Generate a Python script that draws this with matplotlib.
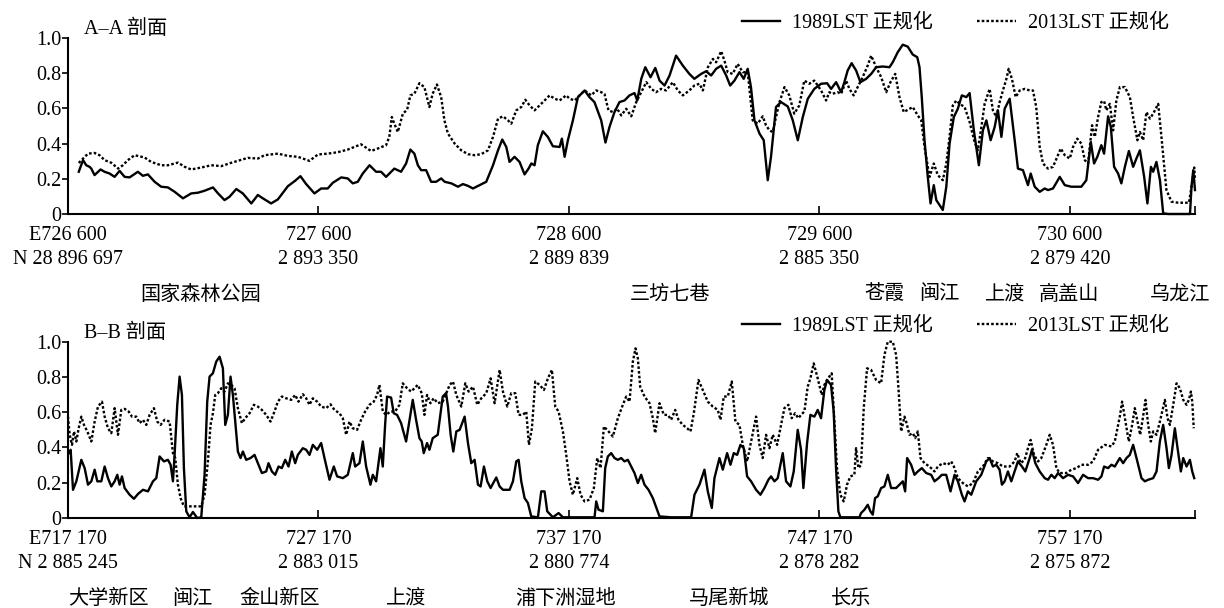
import matplotlib
matplotlib.use('Agg')
import matplotlib.pyplot as plt
from matplotlib.transforms import blended_transform_factory

plt.rcParams['font.family'] = ['Liberation Serif', 'Noto Sans CJK SC']
plt.rcParams['font.size'] = 14.5

# ---- A-A profile (easting, normalised LST) ----
a_x_1989 = [726643, 726660, 726673, 726686, 726693, 726706, 726730, 726746, 726766, 726786,
            726806, 726826, 726846, 726879, 726899, 726919, 726946, 726972, 726999, 727026,
            727059, 727092, 727119, 727145, 727179, 727199, 727225, 727245, 727272, 727298,
            727332, 727358, 727378, 727411, 727438, 727478, 727507, 727528, 727551, 727584,
            727611, 727637, 727657, 727691, 727717, 727737, 727757, 727777, 727804, 727830,
            727850, 727870, 727903, 727930, 727950, 727967, 727983, 727997, 728010, 728030,
            728050, 728070, 728090, 728104, 728131, 728157, 728177, 728197, 728217, 728244,
            728270, 728297, 728317, 728334, 728350, 728363, 728383, 728403, 728423, 728439,
            728450, 728463, 728476, 728496, 728516, 728536, 728563, 728572, 728583, 728596,
            728616, 728636, 728663, 728682, 728702, 728729, 728746, 728762, 728782, 728802,
            728822, 728842, 728862, 728873, 728889, 728905, 728926, 728945, 728962, 728982,
            729002, 729028, 729055, 729081, 729101, 729128, 729148, 729168, 729188, 729208,
            729228, 729244, 729261, 729281, 729298, 729314, 729327, 729341, 729361, 729378,
            729394, 729407, 729427, 729447, 729474, 729494, 729514, 729534, 729554, 729580,
            729607, 729631, 729647, 729667, 729687, 729700, 729713, 729729, 729747, 729764,
            729787, 729807, 729827, 729853, 729880, 729893, 729913, 729933, 729953, 729973,
            729991, 730000, 730009, 730020, 730033, 730044, 730057, 730067, 730093, 730107,
            730120, 730137, 730153, 730169, 730187, 730200, 730217, 730237, 730253, 730267,
            730284, 730300, 730313, 730327, 730340, 730360, 730380, 730393, 730413, 730433,
            730444, 730460, 730480, 730500, 730513, 730533, 730560, 730580, 730606, 730646,
            730666, 730684, 730697, 730710, 730726, 730737, 730753, 730764, 730777, 730793,
            730806, 730820, 730836, 730853, 730866, 730880, 730897, 730910, 730924, 730933,
            730946, 730960, 730973, 730993, 731080, 731086, 731093, 731100]
a_v_1989 = [0.240, 0.306, 0.277, 0.268, 0.258, 0.221, 0.253, 0.240, 0.230, 0.211,
            0.245, 0.211, 0.208, 0.240, 0.217, 0.225, 0.183, 0.155, 0.151, 0.126,
            0.089, 0.117, 0.121, 0.132, 0.151, 0.117, 0.079, 0.098, 0.142, 0.117,
            0.060, 0.108, 0.089, 0.060, 0.083, 0.158, 0.189, 0.215, 0.170, 0.117,
            0.145, 0.145, 0.177, 0.208, 0.202, 0.174, 0.183, 0.230, 0.277, 0.240,
            0.240, 0.211, 0.258, 0.240, 0.287, 0.366, 0.343, 0.277, 0.249, 0.249,
            0.183, 0.183, 0.202, 0.183, 0.174, 0.155, 0.170, 0.160, 0.145, 0.164,
            0.183, 0.277, 0.362, 0.423, 0.381, 0.296, 0.325, 0.296, 0.225, 0.258,
            0.287, 0.277, 0.391, 0.470, 0.438, 0.385, 0.381, 0.428, 0.325, 0.419,
            0.532, 0.664, 0.702, 0.664, 0.636, 0.532, 0.406, 0.494, 0.579, 0.636,
            0.645, 0.674, 0.687, 0.645, 0.768, 0.834, 0.777, 0.830, 0.758, 0.730,
            0.787, 0.900, 0.843, 0.796, 0.768, 0.796, 0.811, 0.787, 0.825, 0.843,
            0.787, 0.730, 0.758, 0.806, 0.768, 0.825, 0.721, 0.532, 0.457, 0.419,
            0.192, 0.325, 0.608, 0.636, 0.611, 0.532, 0.419, 0.551, 0.655, 0.711,
            0.740, 0.743, 0.711, 0.749, 0.692, 0.749, 0.815, 0.857, 0.815, 0.749,
            0.768, 0.796, 0.834, 0.838, 0.834, 0.862, 0.919, 0.962, 0.951, 0.906,
            0.891, 0.834, 0.664, 0.419, 0.211, 0.060, 0.164, 0.079, 0.023, 0.155,
            0.400, 0.551, 0.598, 0.674, 0.664, 0.687, 0.475, 0.277, 0.475, 0.532,
            0.419, 0.494, 0.589, 0.438, 0.598, 0.655, 0.419, 0.258, 0.249, 0.164,
            0.230, 0.155, 0.126, 0.145, 0.136, 0.145, 0.211, 0.164, 0.155, 0.155,
            0.192, 0.409, 0.287, 0.325, 0.391, 0.343, 0.555, 0.494, 0.268, 0.230,
            0.174, 0.268, 0.358, 0.268, 0.315, 0.362, 0.211, 0.060, 0.268, 0.240,
            0.296, 0.192, 0.004, 0.0, 0.0, 0.155, 0.249, 0.136]

a_x_2013 = [726643, 726660, 726680, 726706, 726726, 726746, 726773, 726800, 726819, 726839,
            726866, 726906, 726932, 726972, 726999, 727039, 727066, 727092, 727132, 727172,
            727212, 727252, 727278, 727318, 727358, 727385, 727438, 727478, 727518, 727564,
            727598, 727637, 727677, 727717, 727744, 727770, 727810, 727837, 727870, 727883,
            727893, 727903, 727917, 727937, 727954, 727967, 727983, 728003, 728023, 728043,
            728056, 728073, 728090, 728103, 728117, 728144, 728170, 728197, 728224, 728250,
            728277, 728297, 728317, 728337, 728357, 728370, 728390, 728410, 728426, 728443,
            728463, 728483, 728503, 728523, 728543, 728563, 728589, 728603, 728623, 728643,
            728663, 728689, 728709, 728729, 728742, 728758, 728776, 728793, 728809, 728829,
            728849, 728869, 728889, 728909, 728929, 728948, 728968, 728988, 729015, 729035,
            729055, 729081, 729101, 729121, 729135, 729155, 729175, 729188, 729208, 729221,
            729234, 729254, 729274, 729294, 729314, 729334, 729354, 729374, 729387, 729401,
            729414, 729427, 729441, 729461, 729480, 729500, 729520, 729540, 729560, 729580,
            729607, 729627, 729640, 729653, 729673, 729687, 729707, 729720, 729737, 729753,
            729773, 729793, 729807, 729827, 729847, 729867, 729884, 729903, 729920, 729937,
            729953, 729973, 729993, 730007, 730020, 730040, 730057, 730073, 730093, 730107,
            730120, 730133, 730147, 730160, 730180, 730200, 730220, 730233, 730247, 730260,
            730280, 730293, 730307, 730320, 730333, 730347, 730356, 730369, 730384, 730400,
            730420, 730440, 730453, 730466, 730480, 730493, 730513, 730533, 730550, 730564,
            730580, 730600, 730613, 730630, 730646, 730660, 730673, 730689, 730700, 730713,
            730726, 730737, 730746, 730760, 730773, 730786, 730800, 730820, 730840, 730853,
            730870, 730880, 730893, 730906, 730920, 730933, 730953, 730966, 730986, 731006,
            731033, 731076, 731086, 731097, 731100]
a_v_2013 = [0.290, 0.315, 0.343, 0.347, 0.334, 0.306, 0.291, 0.258, 0.277, 0.306,
            0.334, 0.321, 0.296, 0.277, 0.277, 0.292, 0.268, 0.253, 0.264, 0.277,
            0.272, 0.291, 0.302, 0.319, 0.315, 0.334, 0.343, 0.330, 0.325, 0.302,
            0.338, 0.343, 0.351, 0.366, 0.381, 0.396, 0.358, 0.372, 0.391, 0.438,
            0.551, 0.513, 0.466, 0.570, 0.592, 0.674, 0.683, 0.743, 0.721, 0.608,
            0.683, 0.736, 0.664, 0.532, 0.457, 0.400, 0.362, 0.340, 0.334, 0.340,
            0.362, 0.438, 0.542, 0.555, 0.532, 0.513, 0.589, 0.608, 0.649, 0.617,
            0.589, 0.617, 0.645, 0.674, 0.655, 0.645, 0.674, 0.655, 0.645, 0.674,
            0.702, 0.674, 0.702, 0.692, 0.683, 0.589, 0.579, 0.598, 0.560, 0.598,
            0.555, 0.636, 0.692, 0.749, 0.711, 0.692, 0.711, 0.702, 0.749, 0.702,
            0.674, 0.702, 0.730, 0.740, 0.702, 0.834, 0.881, 0.862, 0.925, 0.872,
            0.806, 0.796, 0.853, 0.806, 0.806, 0.532, 0.513, 0.555, 0.504, 0.475,
            0.466, 0.551, 0.636, 0.721, 0.674, 0.570, 0.617, 0.758, 0.740, 0.758,
            0.702, 0.645, 0.692, 0.683, 0.692, 0.683, 0.758, 0.711, 0.674, 0.721,
            0.777, 0.843, 0.900, 0.834, 0.777, 0.692, 0.749, 0.796, 0.664, 0.579,
            0.592, 0.608, 0.560, 0.532, 0.381, 0.211, 0.287, 0.221, 0.192, 0.287,
            0.438, 0.617, 0.645, 0.626, 0.608, 0.523, 0.409, 0.362, 0.494, 0.626,
            0.711, 0.589, 0.551, 0.636, 0.702, 0.768, 0.825, 0.768, 0.664, 0.702,
            0.711, 0.702, 0.702, 0.608, 0.381, 0.287, 0.258, 0.268, 0.325, 0.372,
            0.334, 0.315, 0.381, 0.428, 0.400, 0.306, 0.287, 0.504, 0.438, 0.551,
            0.636, 0.642, 0.589, 0.626, 0.475, 0.645, 0.721, 0.721, 0.664, 0.551,
            0.419, 0.466, 0.419, 0.579, 0.542, 0.570, 0.626, 0.438, 0.136, 0.070,
            0.064, 0.064, 0.155, 0.264, 0.192]

# ---- B-B profile ----
b_x_1989 = [717197, 717276, 717370, 717503, 717596, 717702, 717835, 717968, 718101, 718234,
            718340, 718500, 718633, 718766, 718899, 719032, 719138, 719232, 719325, 719431,
            719631, 719803, 719963, 720163, 720362, 720562, 720695, 720828, 721000, 721160,
            721266, 721360, 721426, 721532, 721626, 721719, 721798, 721892, 722025, 722158,
            722330, 722490, 722623, 722729, 722823, 722956, 723089, 723222, 723355, 723448,
            723554, 723660, 723754, 723847, 723953, 724059, 724153, 724286, 724458, 724618,
            724751, 724911, 725084, 725177, 725310, 725443, 725576, 725709, 725842, 725975,
            726108, 726241, 726347, 726547, 726680, 726813, 726946, 727118, 727278, 727411,
            727611, 727783, 727916, 728143, 728342, 728542, 728635, 728808, 728941, 729074,
            729246, 729340, 729473, 729645, 729739, 729832, 729911, 730071, 730177, 730310,
            730470, 730670, 730842, 730936, 731069, 731202, 731295, 731374, 731507, 731601,
            731734, 731933, 732133, 732266,
            732342, 732448, 732555, 732675, 732808, 733007, 733140, 733273, 733406, 733539,
            733645, 733778, 733911, 734044, 734271, 734404, 734537, 734803, 734936, 735069,
            735162, 735268, 735401, 735534, 735667, 735933, 736066, 736199, 736305, 736532,
            736758, 736931, 737170, 738194, 738261, 738354, 738527, 738620, 738726, 738859,
            738992, 739125, 739258, 739391, 739524, 739657, 739790, 739923, 740056, 740189,
            740349, 740522, 740788, 741253, 742051, 742184, 742384, 742583, 742716, 742876,
            742982, 743182, 743315, 743488, 743621, 743754, 743887, 744020, 744153, 744286,
            744445, 744645, 744818, 744977, 745137, 745243, 745376, 745509, 745709, 745842,
            746015, 746148, 746307, 746440, 746533, 746680, 746813, 746972, 747105, 747238,
            747371, 747478,
            747637, 747743, 747837, 747930, 748010, 748770, 748836, 748970, 749103, 749209,
            749303, 749396, 749503, 749636, 749769, 749903, 750036, 750236, 750369, 750503,
            750596, 750676, 750836, 750969, 751102, 751262, 751436, 751636, 751769, 751929,
            752062, 752235, 752409, 752569, 752702, 752862, 752969, 753102, 753235, 753435,
            753635, 753835, 753968, 754102, 754235, 754368, 754461, 754568, 754701, 754835,
            754968, 755101, 755261, 755395, 755568, 755661, 755794, 755968, 756168, 756301,
            756434, 756568, 756701, 756901, 757101, 757301, 757501, 757701, 757901, 758101,
            758301, 758434, 758540, 758700, 758834, 758967, 759167, 759300, 759434, 759567,
            759700, 759834, 760033, 760167, 760300, 760500, 760633, 760767, 760900, 761033,
            761127, 761233, 761366, 761473, 761606, 761700, 761833, 761966, 762060, 762140]
b_v_1989 = [0.368, 0.387, 0.160, 0.208, 0.264, 0.330, 0.283, 0.189, 0.208, 0.274,
            0.208, 0.208, 0.292, 0.226, 0.179, 0.208, 0.245, 0.189, 0.236, 0.170,
            0.132, 0.109, 0.136, 0.160, 0.151, 0.208, 0.226, 0.349, 0.321, 0.330,
            0.302, 0.208, 0.358, 0.642, 0.802, 0.698, 0.283, 0.038, 0.004, 0.034,
            0.0, 0.004, 0.245, 0.660, 0.802, 0.821, 0.887, 0.915, 0.849, 0.528,
            0.585, 0.802, 0.698, 0.547, 0.377, 0.340, 0.377, 0.330, 0.340, 0.358,
            0.311, 0.255, 0.264, 0.311, 0.264, 0.245, 0.292, 0.283, 0.330, 0.292,
            0.377, 0.311, 0.358, 0.396, 0.387, 0.358, 0.415, 0.387, 0.425, 0.340,
            0.217, 0.292, 0.236, 0.226, 0.245, 0.368, 0.292, 0.311, 0.434, 0.292,
            0.189, 0.245, 0.208, 0.396, 0.292, 0.528, 0.689, 0.683, 0.594, 0.585,
            0.538, 0.434, 0.585, 0.670, 0.557, 0.453, 0.434, 0.368, 0.425, 0.387,
            0.453, 0.472, 0.689, 0.708,
            0.632, 0.472, 0.377, 0.491, 0.500, 0.575, 0.425, 0.311, 0.330, 0.189,
            0.179, 0.292, 0.208, 0.170, 0.230, 0.179, 0.160, 0.160, 0.208, 0.321,
            0.330, 0.208, 0.113, 0.085, 0.009, 0.004, 0.151, 0.151, 0.038, 0.004,
            0.028, 0.004, 0.004, 0.004, 0.094, 0.047, 0.038, 0.283, 0.349, 0.368,
            0.340, 0.330, 0.340, 0.321, 0.330, 0.292, 0.255, 0.198, 0.245, 0.189,
            0.160, 0.113, 0.009, 0.004, 0.004, 0.132, 0.189, 0.274, 0.151, 0.057,
            0.226, 0.340, 0.274, 0.368, 0.302, 0.368, 0.358, 0.415, 0.396, 0.236,
            0.208, 0.160, 0.132, 0.170, 0.217, 0.236, 0.208, 0.226, 0.368, 0.208,
            0.179, 0.264, 0.500, 0.387, 0.170, 0.425, 0.585, 0.575, 0.613, 0.566,
            0.726, 0.783,
            0.755, 0.604, 0.283, 0.038, 0.004, 0.004, 0.028, 0.047, 0.075, 0.038,
            0.019, 0.113, 0.123, 0.170, 0.179, 0.245, 0.170, 0.170, 0.189, 0.208,
            0.151, 0.340, 0.302, 0.245, 0.264, 0.283, 0.255, 0.245, 0.208, 0.226,
            0.245, 0.245, 0.151, 0.245, 0.208, 0.132, 0.094, 0.151, 0.132, 0.208,
            0.245, 0.321, 0.340, 0.292, 0.302, 0.274, 0.189, 0.208, 0.264, 0.208,
            0.264, 0.321, 0.292, 0.264, 0.340, 0.387, 0.311, 0.264, 0.226, 0.217,
            0.245, 0.226, 0.255, 0.226, 0.245, 0.236, 0.198, 0.245, 0.226, 0.226,
            0.217, 0.236, 0.292, 0.283, 0.302, 0.292, 0.340, 0.311, 0.340, 0.358,
            0.415, 0.340, 0.226, 0.208, 0.217, 0.226, 0.264, 0.434, 0.528, 0.396,
            0.283, 0.358, 0.509, 0.396, 0.264, 0.340, 0.292, 0.330, 0.264, 0.226]

b_x_2013 = [717170, 717237, 717330, 717409, 717503, 717596, 717702, 717808, 717941, 718101,
            718234, 718367, 718527, 718633, 718766, 718899, 719032, 719165, 719298, 719431,
            719591, 719724, 719897, 720030, 720163, 720296, 720429, 720601, 720734, 720867,
            721027, 721227, 721360, 721453, 721559, 721665, 721798, 722091, 722490, 722623,
            722756, 722862, 722956, 723049, 723155, 723288, 723421, 723554, 723687, 723820,
            723953, 724113, 724246, 724419, 724591, 724751, 724911, 725084, 725256, 725416,
            725549, 725709, 725882, 726081, 726241, 726374, 726547, 726680, 726813, 726946,
            727118, 727278, 727478, 727650, 727810, 728010, 728143, 728276, 728409, 728542,
            728714, 728874, 729034, 729207, 729379, 729512, 729606, 729739, 729872, 730044,
            730231, 730404, 730537, 730709, 730869, 731002, 731135, 731295, 731401, 731507,
            731640, 731773, 731933, 732133, 732275,
            732409, 732542, 732675, 732874, 733034, 733167, 733340, 733512, 733672, 733872,
            734044, 734204, 734404, 734537, 734709, 734869, 735029, 735162, 735335, 735468,
            735574, 735694, 735827, 736000, 736172, 736332, 736492, 736625, 736758, 736931,
            737064, 737197, 737330, 737503, 737636, 737795, 737995, 738168, 738301, 738434,
            738567, 738753, 738926, 739125, 739325, 739458, 739591, 739724, 739830, 739923,
            740016, 740189, 740389, 740522, 740615, 740788, 740961, 741120, 741253, 741413,
            741546, 741719, 741892, 742025, 742158, 742344, 742517, 742716, 742916, 743115,
            743222, 743355, 743514, 743674, 743820, 743980, 744113, 744286, 744445, 744645,
            744778, 744911, 745044, 745177, 745310, 745483, 745642, 745775, 745935, 746068,
            746201, 746334, 746440, 746573, 746706, 746813, 746946, 747105, 747265, 747371,
            747478,
            747663, 747770, 747876, 748010, 748143, 748276, 748410, 748570, 748636, 748730,
            748836, 748943, 749076, 749236, 749436, 749636, 749769, 749903, 750103, 750236,
            750329, 750436, 750569, 750636, 750769, 750902, 750996, 751102, 751209, 751369,
            751569, 751769, 751902, 752102, 752302, 752435, 752542, 752702, 752902, 753102,
            753302, 753502, 753702, 753902, 754102, 754302, 754502, 754768, 754968, 755075,
            755208, 755368, 755501, 755608, 755741, 755901, 756034, 756234, 756368, 756501,
            756634, 756768, 757034, 757234, 757434, 757634, 757901, 758101, 758301, 758567,
            758834, 758967, 759167, 759260, 759394, 759527, 759660, 759767, 759873, 759980,
            760087, 760193, 760300, 760407, 760500, 760633, 760767, 760860, 760967, 761073,
            761167, 761300, 761433, 761566, 761700, 761833, 761926, 762006, 762060, 762120]
b_v_2013 = [0.575, 0.472, 0.415, 0.491, 0.434, 0.509, 0.575, 0.528, 0.491, 0.434,
            0.547, 0.632, 0.660, 0.575, 0.509, 0.481, 0.623, 0.472, 0.613, 0.619,
            0.604, 0.575, 0.575, 0.538, 0.557, 0.528, 0.585, 0.623, 0.547, 0.528,
            0.557, 0.547, 0.368, 0.340, 0.189, 0.113, 0.066, 0.066, 0.066, 0.132,
            0.321, 0.528, 0.594, 0.698, 0.708, 0.736, 0.717, 0.764, 0.755, 0.736,
            0.623, 0.538, 0.566, 0.594, 0.642, 0.632, 0.613, 0.585, 0.547, 0.604,
            0.660, 0.689, 0.679, 0.670, 0.698, 0.660, 0.702, 0.679, 0.642, 0.679,
            0.660, 0.632, 0.623, 0.645, 0.613, 0.594, 0.566, 0.472, 0.547, 0.509,
            0.500, 0.557, 0.604, 0.642, 0.660, 0.698, 0.755, 0.604, 0.585, 0.604,
            0.604, 0.642, 0.764, 0.736, 0.717, 0.736, 0.755, 0.708, 0.585, 0.698,
            0.651, 0.679, 0.651, 0.660, 0.708,
            0.755, 0.774, 0.698, 0.632, 0.764, 0.717, 0.745, 0.642, 0.679, 0.708,
            0.792, 0.651, 0.840, 0.717, 0.632, 0.708, 0.708, 0.585, 0.585, 0.604,
            0.415, 0.509, 0.774, 0.755, 0.726, 0.792, 0.840, 0.632, 0.604, 0.491,
            0.358, 0.208, 0.132, 0.226, 0.132, 0.094, 0.104, 0.170, 0.340, 0.283,
            0.519, 0.491, 0.462, 0.566, 0.642, 0.689, 0.660, 0.887, 0.962, 0.906,
            0.745, 0.689, 0.651, 0.566, 0.481, 0.651, 0.585, 0.585, 0.557, 0.613,
            0.557, 0.528, 0.509, 0.491, 0.594, 0.783, 0.726, 0.660, 0.632, 0.613,
            0.557, 0.689, 0.689, 0.774, 0.547, 0.528, 0.415, 0.321, 0.434, 0.575,
            0.415, 0.340, 0.472, 0.396, 0.472, 0.415, 0.528, 0.623, 0.642, 0.566,
            0.594, 0.566, 0.585, 0.604, 0.745, 0.792, 0.877, 0.792, 0.698, 0.755,
            0.783,
            0.821, 0.547, 0.283, 0.132, 0.094, 0.189, 0.236, 0.245, 0.396, 0.283,
            0.302, 0.623, 0.849, 0.840, 0.783, 0.764, 0.925, 1.000, 1.000, 0.925,
            0.736, 0.491, 0.575, 0.547, 0.472, 0.481, 0.453, 0.491, 0.340, 0.311,
            0.292, 0.264, 0.292, 0.311, 0.302, 0.321, 0.292, 0.226, 0.198, 0.179,
            0.198, 0.264, 0.292, 0.340, 0.321, 0.311, 0.292, 0.292, 0.321, 0.368,
            0.311, 0.330, 0.396, 0.443, 0.358, 0.321, 0.340, 0.415, 0.472, 0.415,
            0.283, 0.255, 0.255, 0.274, 0.283, 0.302, 0.302, 0.321, 0.387, 0.415,
            0.406, 0.434, 0.575, 0.660, 0.547, 0.434, 0.528, 0.623, 0.547, 0.472,
            0.566, 0.670, 0.528, 0.434, 0.491, 0.472, 0.547, 0.604, 0.670, 0.566,
            0.528, 0.642, 0.764, 0.736, 0.670, 0.642, 0.670, 0.717, 0.660, 0.509]

# ---- axis labels ----
y_ticks = [0, 0.2, 0.4, 0.6, 0.8, 1.0]
y_tick_labels = ['0', '0.2', '0.4', '0.6', '0.8', '1.0']

a_ticks = [726600, 727600, 728600, 729600, 730600]
a_tick_labels = ['E726 600\nN 28 896 697', '727 600\n2 893 350', '728 600\n2 889 839',
                 '729 600\n2 885 350', '730 600\n2 879 420']
b_ticks = [717170, 727170, 737170, 747170, 757170]
b_tick_labels = ['E717 170\nN 2 885 245', '727 170\n2 883 015', '737 170\n2 880 774',
                 '747 170\n2 878 282', '757 170\n2 875 872']

a_places = ['国家森林公园', '三坊七巷', '苍霞', '闽江', '上渡', '高盖山', '乌龙江']
a_place_x = [727130, 729005, 729862, 730078, 730342, 730595, 731040]
b_places = ['大学新区', '闽江', '金山新区', '上渡', '浦下洲湿地', '马尾新城', '长乐']
b_place_x = [718800, 722120, 725640, 730690, 737050, 743560, 748430]


def draw_panel(ax, x89, v89, x13, v13, xlim, ticks, labels, title, places, place_x):
    ax.plot(x89, v89, color='black', lw=1.7, label='1989LST 正规化', clip_on=False)
    ax.plot(x13, v13, color='black', lw=1.7, linestyle=(0, (1.1, 0.9)),
            label='2013LST 正规化', clip_on=False)
    ax.set_xlim(xlim)
    ax.set_ylim(0, 1.0)
    for s in ['top', 'right']:
        ax.spines[s].set_visible(False)
    for s in ['left', 'bottom']:
        ax.spines[s].set_linewidth(1.5)
    ax.set_yticks(y_ticks)
    ax.set_yticklabels(y_tick_labels)
    ax.set_xticks(ticks + [xlim[1]])
    ax.set_xticklabels(labels + [''], linespacing=1.3)
    ax.tick_params(axis='y', direction='out', length=4, width=1.2, pad=1)
    ax.tick_params(axis='x', direction='in', length=6, width=1.2, pad=9)
    ax.text(0.014, 1.05, title, transform=ax.transAxes, ha='left', va='center')
    ax.legend(loc='center left', bbox_to_anchor=(0.598, 1.085), ncol=2, frameon=False,
              handlelength=1.9, handletextpad=0.6, columnspacing=2.2,
              borderpad=0, borderaxespad=0)
    trans = blended_transform_factory(ax.transData, ax.transAxes)
    for name, x in zip(places, place_x):
        ax.text(x, -0.46, name, transform=trans, ha='center', va='center')


fig = plt.figure(figsize=(12.24, 6.08), dpi=100)
ax1 = fig.add_axes([68 / 1224, 1 - 214 / 608, 1127 / 1224, 176 / 608])
ax2 = fig.add_axes([68 / 1224, 1 - 518 / 608, 1127 / 1224, 176.3 / 608])

draw_panel(ax1, a_x_1989, a_v_1989, a_x_2013, a_v_2013, (726600, 731100),
           a_ticks, a_tick_labels, 'A–A 剖面', a_places, a_place_x)
draw_panel(ax2, b_x_1989, b_v_1989, b_x_2013, b_v_2013, (717170, 762170),
           b_ticks, b_tick_labels, 'B–B 剖面', b_places, b_place_x)

fig.savefig('out.png', dpi=100)
